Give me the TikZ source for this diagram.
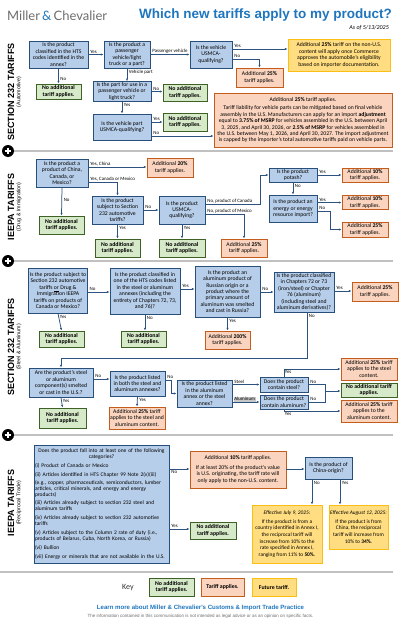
\documentclass[tikz,border=0pt]{standalone}
\usepackage{fontspec}
\setmainfont{Carlito}
\newfontfamily\headfont{Liberation Sans}
\newfontfamily\logofont{Lato}
\usetikzlibrary{arrows.meta, positioning, calc}

\definecolor{qfill}{RGB}{183,206,234}
\definecolor{qline}{RGB}{40,78,122}
\definecolor{nfill}{RGB}{214,233,200}
\definecolor{nline}{RGB}{62,98,38}
\definecolor{tfill}{RGB}{250,212,190}
\definecolor{tline}{RGB}{196,92,28}
\definecolor{ffill}{RGB}{255,221,128}
\definecolor{fline}{RGB}{250,190,20}
\definecolor{arrcol}{RGB}{44,82,128}
\definecolor{mcblue}{RGB}{31,118,190}
\definecolor{sepgray}{RGB}{192,192,192}
\definecolor{mcgray}{RGB}{110,110,110}

\tikzset{
  box/.style={draw, line width=0.9pt, align=center, inner sep=1pt, font=\fontsize{5.7}{6.4}\selectfont},
  qbox/.style={box, fill=qfill, draw=qline},
  nbox/.style={box, fill=nfill, draw=nline, font=\fontsize{5.8}{6.5}\selectfont\bfseries},
  tbox/.style={box, fill=tfill, draw=tline},
  fbox/.style={box, fill=ffill, draw=fline},
  arr/.style={draw=arrcol, line width=0.75pt, -{Latex[length=2.6pt,width=2.2pt]}},
  link/.style={draw=arrcol, line width=0.75pt},
  lbl/.style={font=\fontsize{4.9}{5.5}\selectfont, inner sep=0.6pt, text=black},
  hl/.style={lbl, pos=0, anchor=south west, xshift=1pt},
  vl/.style={lbl, pos=0, anchor=north west, xshift=1pt, yshift=-1pt},
  sectitle/.style={rotate=90, font=\headfont\fontsize{9}{10}\selectfont\bfseries},
  secsub/.style={rotate=90, font=\headfont\fontsize{5.3}{6}\selectfont},
}

\begin{document}
\begin{tikzpicture}[x=1pt, y=-1pt]
  \fill[white] (0,0) rectangle (401,623);
  \useasboundingbox (0,0) rectangle (401,623);

  % header
  \node[font=\logofont\fontsize{13}{14}\selectfont, text=mcgray, anchor=west, inner sep=0] (logo) at (7,16) {Miller\,{\color{mcblue}\&}\,Chevalier};
  \node[font=\headfont\fontsize{13.5}{15}\selectfont\bfseries, text=mcblue, anchor=east, inner sep=0] (title) at (392,15) {Which new tariffs apply to my product?};
  \node[font=\fontsize{6}{7}\selectfont\itshape, anchor=east, inner sep=0] (asof) at (389,28) {As of 5/13/2025};

  % section separators
  \foreach \yy in {151,261,435} {
    \draw[sepgray, line width=1.6pt] (14,\yy) -- (393,\yy);
    \fill[black] (8,\yy) circle (6pt);
    \draw[white, line width=1.1pt] (4.6,\yy) -- (11.4,\yy) (8,\yy-3.4) -- (8,\yy+3.4);
  }
  \draw[sepgray, line width=1.3pt] (0,572) -- (393,572);

  % section labels
  \node[sectitle] (s1) at (11,92) {SECTION 232 TARIFFS};
  \node[secsub] (s1b) at (19,92) {(Automotive)};
  \node[sectitle] (s2) at (11,207) {IEEPA TARIFFS};
  \node[secsub] (s2b) at (19,207) {(Drug \& Immigration)};
  \node[sectitle] (s3) at (11,347) {SECTION 232 TARIFFS};
  \node[secsub] (s3b) at (19,347) {(Steel \& Aluminum)};
  \node[sectitle] (s4) at (11,503) {IEEPA TARIFFS};
  \node[secsub] (s4b) at (19,503) {(Reciprocal Trade)};

  % section 232 automotive
  \node[qbox, minimum width=59, minimum height=27] (a1) at (58.5,54.5) {Is the product\\classified in the HTS\\codes identified in the\\annex?};
  \node[qbox, minimum width=46, minimum height=27] (a2) at (127,54.5) {Is the product a\\passenger\\vehicle/light\\truck or a part?};
  \node[qbox, minimum width=42, minimum height=27] (a3) at (211,54.5) {Is the vehicle\\USMCA-\\qualifying?};
  \node[fbox, minimum width=102, minimum height=32] (a4) at (339,55) {Additional \textbf{25\%} tariff on the non-U.S.\\content will apply once Commerce\\approves the automobile's eligibility\\based on importer documentation.};
  \node[tbox, minimum width=47, minimum height=19] (a5) at (259.5,77.5) {Additional \textbf{25\%}\\tariff applies.};
  \node[nbox, minimum width=45, minimum height=15] (a6) at (58.5,91.5) {No additional\\tariff applies.};
  \node[qbox, minimum width=58, minimum height=19] (a7) at (122,91.5) {Is the part for use in a\\passenger vehicle or\\light truck?};
  \node[nbox, minimum width=44, minimum height=17] (a8) at (185,92.5) {No additional\\tariff applies.};
  \node[qbox, minimum width=58, minimum height=26] (a9) at (122,127) {Is the vehicle part\\USMCA-qualifying?};
  \node[nbox, minimum width=44, minimum height=18] (a10) at (185,122) {No additional\\tariff applies.};
  \node[tbox, minimum width=178, minimum height=54] (a11) at (303,120) {Additional \textbf{25\%} tariff applies.\\[2.5pt]
    Tariff liability for vehicle parts can be mitigated based on final vehicle\\
    assembly in the U.S. Manufacturers can apply for an import \textbf{adjustment}\\
    equal to \textbf{3.75\% of MSRP} for vehicles assembled in the U.S. between April\\
    3, 2025, and April 30, 2026, or \textbf{2.5\% of MSRP} for vehicles assembled in\\
    the U.S. between May 1, 2026, and April 30, 2027. The import adjustment\\
    is capped by the importer's total automotive tariffs paid on vehicle parts.};

  \draw[arr] (a1.east) -- node[hl]{Yes} (a2.west);
  \draw[arr] (a2.east) -- node[hl]{Passenger vehicle} (a3.west);
  \draw[arr] (a3.east |- 0,49) -- node[hl]{Yes} (a4.west |- 0,49);
  \draw[arr] (a3.east |- 0,59) -| node[hl]{No} (a5.north);
  \draw[arr] (a1.south) -- node[vl, pos=0.45]{No} (a6.north);
  \draw[arr] (a2.south) -- node[vl]{Vehicle part} (a7.north -| a2.south);
  \draw[arr] (a7.east) -- node[hl]{No} (a7.east -| a8.west);
  \draw[arr] (a7.south) -- node[vl]{Yes} (a9.north);
  \draw[arr] (a9.east |- 0,122) -- node[hl]{Yes} (a10.west |- 0,122);
  \draw[arr] (a9.east |- 0,136) -- node[hl]{No} (a11.west |- 0,136);

  % IEEPA drug & immigration
  \node[qbox, minimum width=52, minimum height=28] (b1) at (62,173) {Is the product a\\product of China,\\Canada, or\\Mexico?};
  \node[tbox, minimum width=46, minimum height=19] (b2) at (170,167.5) {Additional \textbf{20\%}\\tariff applies.};
  \node[nbox, minimum width=45, minimum height=18] (b3) at (61.5,225) {No additional\\tariff applies.};
  \node[qbox, minimum width=51, minimum height=28] (b4) at (117.5,210) {Is the product\\subject to Section\\232 automotive\\tariffs?};
  \node[qbox, minimum width=46, minimum height=28] (b5) at (182,210) {Is the product\\USMCA-\\qualifying?};
  \node[nbox, minimum width=45, minimum height=18] (b6) at (117.5,248) {No additional\\tariff applies.};
  \node[nbox, minimum width=46, minimum height=18] (b7) at (182,248) {No additional\\tariff applies.};
  \node[qbox, minimum width=48, minimum height=14] (b8) at (293,175) {Is the product\\potash?};
  \node[tbox, minimum width=46, minimum height=14] (b9) at (365,175) {Additional \textbf{10\%}\\tariff applies.};
  \node[qbox, minimum width=48, minimum height=27] (b10) at (293,208.5) {Is the product an\\energy or energy\\resource import?};
  \node[tbox, minimum width=46, minimum height=13] (b11) at (365,202.5) {Additional \textbf{10\%}\\tariff applies.};
  \node[tbox, minimum width=46, minimum height=15] (b12) at (365,229.5) {Additional \textbf{25\%}\\tariff applies.};
  \node[tbox, minimum width=46, minimum height=18] (b13) at (244,248) {Additional \textbf{25\%}\\tariff applies.};

  \draw[arr] (b1.east |- 0,167) -- node[hl]{Yes, China} (b2.west |- 0,167);
  \draw[arr] (b1.east |- 0,182) -| node[hl]{Yes, Canada or Mexico} (b4.north);
  \draw[arr] (b1.south) -- node[vl, pos=0.3]{No} (b3.north);
  \draw[arr] (b4.east) -- node[hl]{No} (b5.west);
  \draw[arr] (b4.south) -- node[vl]{Yes} (b6.north);
  \draw[arr] (b5.south) -- node[vl]{Yes} (b7.north);
  \draw[arr] (b5.east |- 0,204) -- node[hl]{No, product of Canada} (260,204) |- (b8.west);
  \draw[arr] (b5.east |- 0,214) -| node[hl]{No, product of Mexico} (b13.north);
  \draw[arr] (b8.east) -- node[hl]{Yes} (b9.west);
  \draw[arr] (b8.south) -- node[vl]{No} (b10.north);
  \draw[arr] (b10.east |- 0,202.5) -- node[hl]{Yes} (b11.west);
  \draw[arr] (b10.east |- 0,211) -- node[hl]{No} (330,211) |- (b12.west);

  % section 232 steel & aluminum
  \node[qbox, minimum width=58, minimum height=45] (c1) at (58,290.5) {Is the product subject to\\Section 232 automotive\\tariffs \underline{or} Drug \&\\Immigration IEEPA\\tariffs on products of\\Canada or Mexico?};
  \node[qbox, minimum width=70, minimum height=46] (c2) at (145,291) {Is the product classified in\\one of the HTS codes listed\\in the steel or aluminum\\annexes (including the\\entirety of Chapters 72, 73,\\and 76)?};
  \node[nbox, minimum width=45, minimum height=16] (c3) at (61.5,339) {No additional\\tariff applies.};
  \node[nbox, minimum width=45, minimum height=16] (c4) at (143.5,339) {No additional\\tariff applies.};
  \node[qbox, minimum width=65, minimum height=51] (c5) at (227.5,291.5) {Is the product an\\aluminum product of\\Russian origin or a\\product where the\\primary amount of\\aluminum was smelted\\and cast in Russia?};
  \node[qbox, minimum width=60, minimum height=40] (c6) at (304,292) {Is the product classified\\in Chapters 72 or 73\\(iron/steel) or Chapter\\76 (aluminum)\\(including steel and\\aluminum derivatives)?};
  \node[tbox, minimum width=46, minimum height=19] (c7) at (375,291.5) {Additional \textbf{25\%}\\tariff applies.};
  \node[tbox, minimum width=45, minimum height=18] (c8) at (227.5,340) {Additional \textbf{200\%}\\tariff applies.};
  \node[qbox, minimum width=64, minimum height=29] (c9) at (61,382.5) {Are the product's steel\\or aluminum\\component(s) smelted\\or cast in the U.S.?};
  \node[qbox, minimum width=55, minimum height=25] (c10) at (137.5,383.5) {Is the product listed\\in both the steel and\\aluminum annexes?};
  \node[nbox, minimum width=47, minimum height=20] (c11) at (62.5,418) {No additional\\tariff applies.};
  \node[tbox, minimum width=56, minimum height=22] (c12) at (137,418) {Additional \textbf{25\%} tariff\\applies to the steel and\\aluminum content.};
  \node[qbox, minimum width=55, minimum height=27] (c13) at (204.5,393.5) {Is the product listed\\in the aluminum\\annex or the steel\\annex?};
  \node[qbox, minimum width=48, minimum height=15] (c14) at (284,384.5) {Does the product\\contain steel?};
  \node[qbox, minimum width=48, minimum height=14] (c15) at (284,402) {Does the product\\contain aluminum?};
  \node[tbox, minimum width=56, minimum height=22] (c16) at (369,369) {Additional \textbf{25\%} tariff\\applies to the steel\\content.};
  \node[nbox, minimum width=56, minimum height=14] (c17) at (369,390) {No additional tariff\\applies.};
  \node[tbox, minimum width=56, minimum height=22] (c18) at (369,411) {Additional \textbf{25\%} tariff\\applies to the\\aluminum content.};

  \draw[arr] (c1.east |- 0,292) -- node[hl]{No} (c2.west |- 0,292);
  \draw[arr] (c1.south) -- node[vl]{Yes} (c3.north);
  \draw[arr] (c2.east |- 0,289) -- node[hl]{Yes} (c5.west |- 0,289);
  \draw[arr] (c2.south) -- node[vl]{No} (c4.north -| c2.south);
  \draw[arr] (c5.east |- 0,292) -- node[hl]{No} (c6.west |- 0,292);
  \draw[arr] (c5.south) -- node[vl]{Yes} (c8.north);
  \draw[arr] (c6.east |- 0,291) -- node[hl]{Yes} (c7.west |- 0,291);
  \draw[arr] ([xshift=3pt]c6.south) -- node[vl]{No} ([xshift=3pt]c6.south |- 0,358) -| (c9.north);
  \draw[arr] (c9.east |- 0,379) -- node[hl]{No} (c10.west |- 0,379);
  \draw[arr] (c9.south) -- node[vl]{Yes} (c11.north);
  \draw[arr] (c10.south) -- node[vl]{Yes} (c12.north);
  \draw[arr] (c10.east |- 0,380) -- node[hl]{No} (171,380) |- (c13.west);
  \draw[arr] (c13.east |- 0,384.5) -- node[hl]{Steel} (c14.west);
  \draw[arr] (c13.east |- 0,402) -- node[hl, fill=black!22]{Aluminum} (c15.west);
  \draw[arr] (c14.north) |- node[lbl, pos=0.5, anchor=north west]{Yes} (c16.west);
  \coordinate (cjoin) at (325,391);
  \draw[link] (c14.east) -| node[hl]{No} (cjoin);
  \draw[link] (c15.east) -| node[hl]{No} (cjoin);
  \draw[arr] (cjoin) -- (cjoin -| c17.west);
  \draw[arr] (c15.south) |- node[lbl, pos=0.5, anchor=north west]{Yes} (c18.west);

  % IEEPA reciprocal
  \node[qbox, align=left, text width=133, minimum height=118, font=\fontsize{5.5}{5.9}\selectfont] (d1) at (101.5,504) {%
    {\centering Does the product fall into at least one of the following\\categories?\par}
    \vspace{3pt}(i) Product of Canada or Mexico\par
    \vspace{3pt}(ii) Articles identified in HTS Chapter 99 Note 2(v)(iii)\par
    \vspace{2pt}(e.g., copper, pharmaceuticals, semiconductors, lumber\\articles, critical minerals, and energy and energy\\products)\par
    \vspace{3pt}(iii) Articles already subject to section 232 steel and\\aluminum tariffs\par
    \vspace{3pt}(iv) Articles already subject to section 232 automotive\\tariffs\par
    \vspace{3pt}(v) Articles subject to the Column 2 rate of duty (i.e.,\\products of Belarus, Cuba, North Korea, or Russia)\par
    \vspace{3pt}(vi) Bullion\par
    \vspace{3pt}(vii) Energy or minerals that are not available in the U.S.};
  \node[tbox, minimum width=96, minimum height=37] (d2) at (238,469.5) {Additional \textbf{10\%} tariff applies.\\[3pt]If at least 20\% of the product's value\\is U.S. originating, the tariff rate will\\only apply to the non-U.S. content.};
  \node[qbox, minimum width=47, minimum height=22] (d3) at (328.5,468) {Is the product of\\China-origin?};
  \node[fbox, minimum width=70, minimum height=58, font=\fontsize{5.4}{6.6}\selectfont] (d4) at (287,534) {\textit{Effective July 9, 2025:}\\[2pt]If the product is from a\\country identified in Annex I,\\the reciprocal tariff will\\increase from 10\% to the\\rate specified in Annex I,\\ranging from 11\% to \textbf{50\%}.};
  \node[fbox, minimum width=59, minimum height=44, font=\fontsize{5.4}{6.6}\selectfont] (d5) at (358.5,527) {\textit{Effective August 12, 2025:}\\[2pt]If the product is from\\China, the reciprocal\\tariff will increase from\\10\% to \textbf{34\%}.};
  \node[nbox, minimum width=46, minimum height=17] (d6) at (213,530.5) {No additional\\tariff applies.};

  \draw[arr] (d1.east |- 0,469) -- node[lbl, pos=0, anchor=north west, xshift=1pt]{No} (d2.west |- 0,469);
  \draw[arr] (d1.east |- 0,529) -- node[hl]{Yes} (d6.west |- 0,529);
  \draw[arr] (d2.east |- 0,469) -- (d3.west |- 0,469);
  \draw[arr] (d3.south -| 312,0) -- node[vl]{No} (d4.north -| 312,0);
  \draw[arr] (d3.south -| 340,0) -- node[vl]{Yes} (d5.north -| 340,0);

  % key
  \node[font=\fontsize{8}{9}\selectfont, text=black!80] (key) at (128,588) {Key};
  \node[nbox, minimum width=45, minimum height=18] (k1) at (171.5,587) {No additional\\tariff applies.};
  \node[tbox, minimum width=43, minimum height=18, font=\fontsize{5.8}{6.5}\selectfont\bfseries] (k2) at (222.5,587) {Tariff applies.};
  \node[fbox, minimum width=44, minimum height=18, font=\fontsize{5.8}{6.5}\selectfont\bfseries] (k3) at (274,587) {Future tariff.};

  % footer
  \node[font=\headfont\fontsize{6.1}{7}\selectfont\bfseries, text=mcblue] (learn) at (200.5,608) {Learn more about Miller \& Chevalier's Customs \& Import Trade Practice};
  \node[font=\headfont\fontsize{4.5}{5}\selectfont, text=mcgray] (disc) at (200.5,616.5) {The information contained in this communication is not intended as legal advice or as an opinion on specific facts.};
\end{tikzpicture}
\end{document}
